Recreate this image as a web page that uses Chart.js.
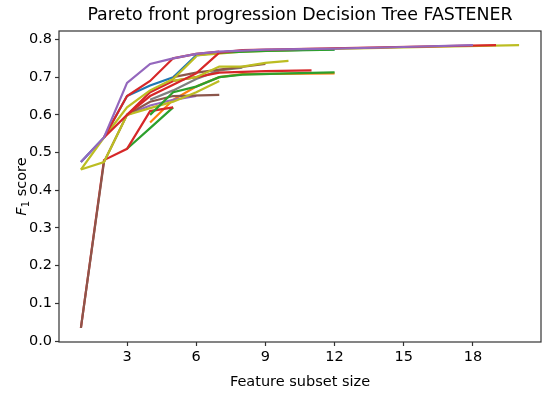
<!DOCTYPE html>
<html lang="en">
<head>
<meta charset="UTF-8">
<title>Pareto front progression</title>
<script src="https://cdn.jsdelivr.net/npm/chart.js"></script>
<style>
    body { margin: 0; padding: 0; background: #fff; }
    #wrap { width: 550px; height: 395px; }
</style>
</head>
<body>
<div id="wrap"><canvas id="chart"></canvas></div>
<script>
    // tick labels
    const xTicks = [3, 6, 9, 12, 15, 18];
    const yTicks = [0.0, 0.1, 0.2, 0.3, 0.4, 0.5, 0.6, 0.7, 0.8];

    // pareto fronts, [subset size, F1], in draw order
    const blueFront = [[1, 0.475], [2, 0.54], [3, 0.65], [4, 0.678], [5, 0.70], [6, 0.758], [7, 0.766], [8, 0.77], [10, 0.772], [12, 0.774]];
    const orangeFront = [[4, 0.58], [5, 0.64], [6, 0.675], [7, 0.70], [8, 0.708], [12, 0.71]];
    const greenFrontA = [[3, 0.51], [4, 0.565], [5, 0.62]];
    const redFrontA = [[1, 0.035], [2, 0.48], [3, 0.51], [4, 0.61], [5, 0.62]];
    const purpleFrontB = [[3, 0.60], [4, 0.625], [5, 0.64], [6, 0.65]];
    const brownFrontA = [[1, 0.035], [2, 0.475], [3, 0.60], [4, 0.635], [5, 0.65], [7, 0.653]];
    const grayFront = [[4, 0.64], [5, 0.665], [6, 0.695], [7, 0.718], [8, 0.725]];
    const oliveFrontA = [[1, 0.455], [2, 0.475], [3, 0.60], [4, 0.618], [5, 0.635], [6, 0.66], [7, 0.69]];
    const greenFrontB = [[4, 0.60], [5, 0.66], [6, 0.675], [7, 0.70], [8, 0.707], [10, 0.71], [12, 0.713]];
    const oliveFrontD = [[6, 0.758], [8, 0.768], [12, 0.775], [16, 0.78], [20, 0.785]];
    const redFrontD = [[3, 0.60], [4, 0.66], [5, 0.69], [6, 0.70], [7, 0.712], [9, 0.716], [11, 0.718]];
    const brownFrontB = [[5, 0.70], [6, 0.712], [7, 0.72], [9, 0.735]];
    const oliveFrontB = [[1, 0.455], [2, 0.54], [3, 0.62], [4, 0.665], [5, 0.695], [6, 0.755]];
    const oliveFrontC = [[5, 0.69], [6, 0.70], [7, 0.728], [8, 0.728], [9, 0.738], [10, 0.743]];
    const greenFrontC = [[7, 0.765], [9, 0.77], [12, 0.773]];
    const redFrontB = [[2, 0.54], [3, 0.65], [4, 0.69], [5, 0.75], [6, 0.762], [7, 0.768]];
    const redFrontC = [[2, 0.54], [3, 0.60], [4, 0.65], [5, 0.68], [6, 0.71], [7, 0.765], [8, 0.772], [13, 0.778], [19, 0.785]];
    const purpleFrontA = [[1, 0.475], [2, 0.54], [3, 0.685], [4, 0.735], [5, 0.75], [6, 0.762], [7, 0.768], [9, 0.773], [12, 0.776], [15, 0.78], [18, 0.785]];

    const fronts = [
        [blueFront, '#1f77b4'],
        [orangeFront, '#ff7f0e'],
        [greenFrontA, '#2ca02c'],
        [redFrontA, '#d62728'],
        [purpleFrontB, '#9467bd'],
        [brownFrontA, '#8c564b'],
        [grayFront, '#7f7f7f'],
        [oliveFrontA, '#bcbd22'],
        [greenFrontB, '#2ca02c'],
        [oliveFrontD, '#bcbd22'],
        [redFrontD, '#d62728'],
        [brownFrontB, '#8c564b'],
        [oliveFrontB, '#bcbd22'],
        [oliveFrontC, '#bcbd22'],
        [greenFrontC, '#2ca02c'],
        [redFrontB, '#d62728'],
        [redFrontC, '#d62728'],
        [purpleFrontA, '#9467bd']
    ];

    // chart.js draws dataset 0 on top, so reverse to keep matplotlib order
    const datasets = fronts.slice().reverse().map(([pts, color]) => ({
        data: pts.map(p => ({ x: p[0], y: p[1] })),
        borderColor: color,
        borderWidth: 2.2,
        pointRadius: 0,
        fill: false,
        tension: 0
    }));

    const FONT = 'DejaVu Sans';
    const LABEL = 14.5;

    // frame, title and axis labels drawn like matplotlib
    const decorations = {
        id: 'decorations',
        afterDraw(chart) {
            const ctx = chart.ctx;
            const a = chart.chartArea;
            ctx.save();
            ctx.strokeStyle = '#333';
            ctx.lineWidth = 1.2;
            ctx.strokeRect(a.left, a.top, a.right - a.left, a.bottom - a.top);

            ctx.fillStyle = '#000';
            ctx.textAlign = 'center';
            ctx.textBaseline = 'alphabetic';
            ctx.font = '17.4px "' + FONT + '"';
            ctx.fillText('Pareto front progression Decision Tree FASTENER', (a.left + a.right) / 2, 20);

            ctx.font = LABEL + 'px "' + FONT + '"';
            ctx.fillText('Feature subset size', (a.left + a.right) / 2, 386);

            // y label: italic F with subscript 1
            ctx.translate(26, (a.top + a.bottom) / 2);
            ctx.rotate(-Math.PI / 2);
            ctx.textAlign = 'left';
            ctx.font = 'italic ' + LABEL + 'px "' + FONT + '"';
            const fW = ctx.measureText('F').width;
            ctx.font = '10px "' + FONT + '"';
            const sW = ctx.measureText('1').width;
            ctx.font = LABEL + 'px "' + FONT + '"';
            const tW = ctx.measureText(' score').width;
            let x = -(fW + sW + tW) / 2;
            ctx.font = 'italic ' + LABEL + 'px "' + FONT + '"';
            ctx.fillText('F', x, 0);
            x += fW;
            ctx.font = '10px "' + FONT + '"';
            ctx.fillText('1', x, 3);
            x += sW;
            ctx.font = LABEL + 'px "' + FONT + '"';
            ctx.fillText(' score', x, 0);
            ctx.restore();
        }
    };

    new Chart(document.getElementById('chart').getContext('2d'), {
        type: 'line',
        data: { datasets: datasets },
        options: {
            responsive: true,
            maintainAspectRatio: false,
            animation: false,
            layout: { padding: { top: 31, right: 9, bottom: 0, left: 0 } },
            plugins: {
                legend: { display: false },
                tooltip: { enabled: false }
            },
            scales: {
                x: {
                    type: 'linear',
                    min: 0.05,
                    max: 20.95,
                    afterFit: s => { s.height = 53; },
                    afterBuildTicks: s => { s.ticks = xTicks.map(v => ({ value: v })); },
                    grid: { drawOnChartArea: false, tickLength: 4, tickColor: '#333', tickWidth: 1.2 },
                    border: { display: false },
                    ticks: { color: '#000', padding: 3, maxRotation: 0, font: { family: FONT, size: LABEL } }
                },
                y: {
                    min: -0.0025,
                    max: 0.8225,
                    afterFit: s => { s.width = 59; },
                    afterBuildTicks: s => { s.ticks = yTicks.map(v => ({ value: v })); },
                    grid: { drawOnChartArea: false, tickLength: 4, tickColor: '#333', tickWidth: 1.2 },
                    border: { display: false },
                    ticks: {
                        color: '#000', padding: 3, font: { family: FONT, size: LABEL },
                        callback: v => v.toFixed(1)
                    }
                }
            }
        },
        plugins: [decorations]
    });
</script>
</body>
</html>
